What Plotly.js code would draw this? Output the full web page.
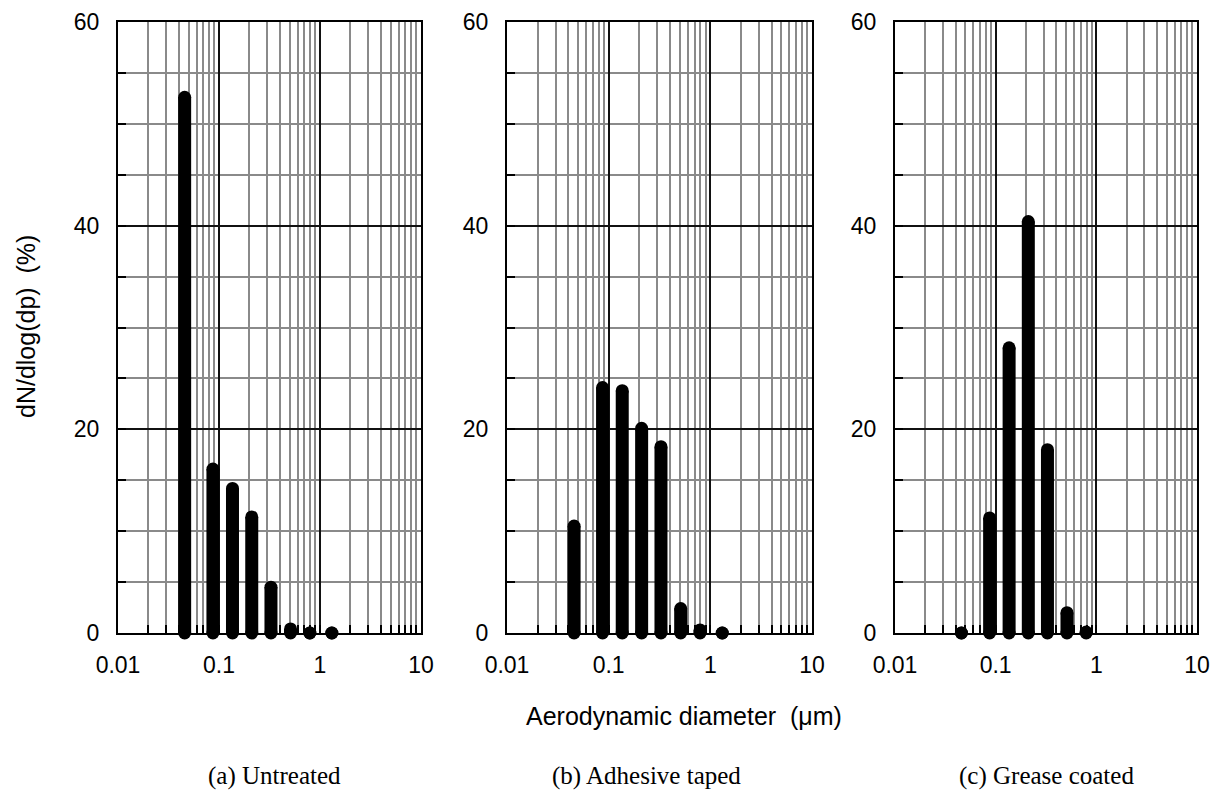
<!DOCTYPE html>
<html>
<head>
<meta charset="utf-8">
<script src="https://cdn.plot.ly/plotly-3.0.1.min.js"></script>
<style>html,body{margin:0;padding:0;background:#fff;}#chart{width:1213px;height:794px;}</style>
</head>
<body>
<div id="chart"></div>
<script>
// Aerodynamic diameter of each stage (µm)
const diameters = [0.0457, 0.0871, 0.136, 0.211, 0.327, 0.511, 0.793, 1.31];
// dN/dlog(dp) (%) per panel
const untreated = [52.6, 16.1, 14.2, 11.4, 4.5, 0.4, 0.0, 0.0];
const adhesive  = [10.5, 24.1, 23.8, 20.1, 18.3, 2.4, 0.3, 0.0];
const grease    = [0.0, 11.3, 28.0, 40.4, 18.0, 2.0, 0.1];

const panelTitles = ["(a) Untreated", "(b) Adhesive taped", "(c) Grease coated"];
const xTickVals = [0.01, 0.1, 1, 10];
const xTickText = ["0.01", "0.1", "1", "10"];
const yTickVals = [0, 20, 40, 60];
const yTitle = "dN/dlog(dp)\u00a0\u00a0(%)";
const xTitle = "Aerodynamic diameter\u00a0\u00a0(\u03bcm)";

const series = [untreated, adhesive, grease];

const minorX = [];
[0.01, 0.1, 1].forEach(d => { for (let k = 2; k <= 9; k++) minorX.push(+(d * k).toPrecision(3)); });

const BW = 13;
const traces = [];
series.forEach((vals, i) => {
  const xs = [], ys = [];
  vals.forEach((v, j) => { xs.push(diameters[j], diameters[j], null); ys.push(0, v, null); });
  const ax = i === 0 ? "" : String(i + 1);
  traces.push({
    type: "scatter", mode: "lines+markers", x: xs, y: ys,
    xaxis: "x" + ax, yaxis: "y" + ax,
    line: { color: "#000", width: BW },
    marker: { color: "#000", size: BW, symbol: "circle", line: { width: 0 } },
    cliponaxis: false, showlegend: false, hoverinfo: "skip"
  });
});

const domainsX = [[118/1213, 421/1213], [507/1213, 812/1213], [895/1213, 1197/1213]];
const domainY = [(794-633)/794, (794-22)/794];

const tickFont = { family: "Liberation Sans, Arial, sans-serif", size: 23, color: "#000" };
const titleFont = { family: "Liberation Sans, Arial, sans-serif", size: 25, color: "#000" };
const capFont = { family: "Liberation Serif, Times New Roman, serif", size: 25, color: "#000" };

const layout = {
  width: 1213, height: 794,
  margin: { l: 0, r: 0, t: 0, b: 0 },
  paper_bgcolor: "#fff", plot_bgcolor: "#fff",
  font: tickFont,
  showlegend: false,
  annotations: []
};

for (let i = 0; i < 3; i++) {
  const ax = i === 0 ? "" : String(i + 1);
  layout["xaxis" + ax] = {
    type: "log", range: [-2, 1], domain: domainsX[i], anchor: "y" + ax,
    tickmode: "array", tickvals: xTickVals, ticktext: xTickText,
    ticks: "inside", ticklen: 8, tickwidth: 2, tickcolor: "#000",
    showgrid: true, gridcolor: "#111", gridwidth: 2,
    minor: { tickmode: "array", tickvals: minorX, ticks: "inside", ticklen: 8, tickwidth: 2, tickcolor: "#000",
             showgrid: true, gridcolor: "#8a8a8a", gridwidth: 2 },
    showline: true, linecolor: "#000", linewidth: 2, mirror: true,
    zeroline: false, ticklabelstandoff: 10, tickfont: tickFont, fixedrange: true
  };
  layout["yaxis" + ax] = {
    range: [0, 60], domain: domainY, anchor: "x" + ax,
    tickmode: "array", tickvals: yTickVals,
    ticks: "inside", ticklen: 8, tickwidth: 2, tickcolor: "#000",
    showgrid: true, gridcolor: "#111", gridwidth: 2,
    minor: { dtick: 5, ticks: "inside", ticklen: 8, tickwidth: 2, tickcolor: "#000",
             showgrid: true, gridcolor: "#8a8a8a", gridwidth: 2 },
    showline: true, linecolor: "#000", linewidth: 2, mirror: true,
    zeroline: false, ticklabelstandoff: 12, tickfont: tickFont, fixedrange: true
  };
  layout.annotations.push({
    text: panelTitles[i], xref: "paper", yref: "paper",
    x: [274, 646, 1046][i] / 1213, y: 2 / 794, xanchor: "center", yanchor: "bottom",
    showarrow: false, font: capFont
  });
}
layout.annotations.push({
  text: yTitle, xref: "paper", yref: "paper", x: 26 / 1213, y: (794 - 327) / 794,
  xanchor: "center", yanchor: "middle", textangle: -90, showarrow: false, font: titleFont
});
layout.annotations.push({
  text: xTitle, xref: "paper", yref: "paper", x: 684 / 1213, y: (794 - 716) / 794,
  xanchor: "center", yanchor: "middle", showarrow: false, font: titleFont
});

Plotly.newPlot("chart", traces, layout, { staticPlot: true, displayModeBar: false });
</script>
</body>
</html>
